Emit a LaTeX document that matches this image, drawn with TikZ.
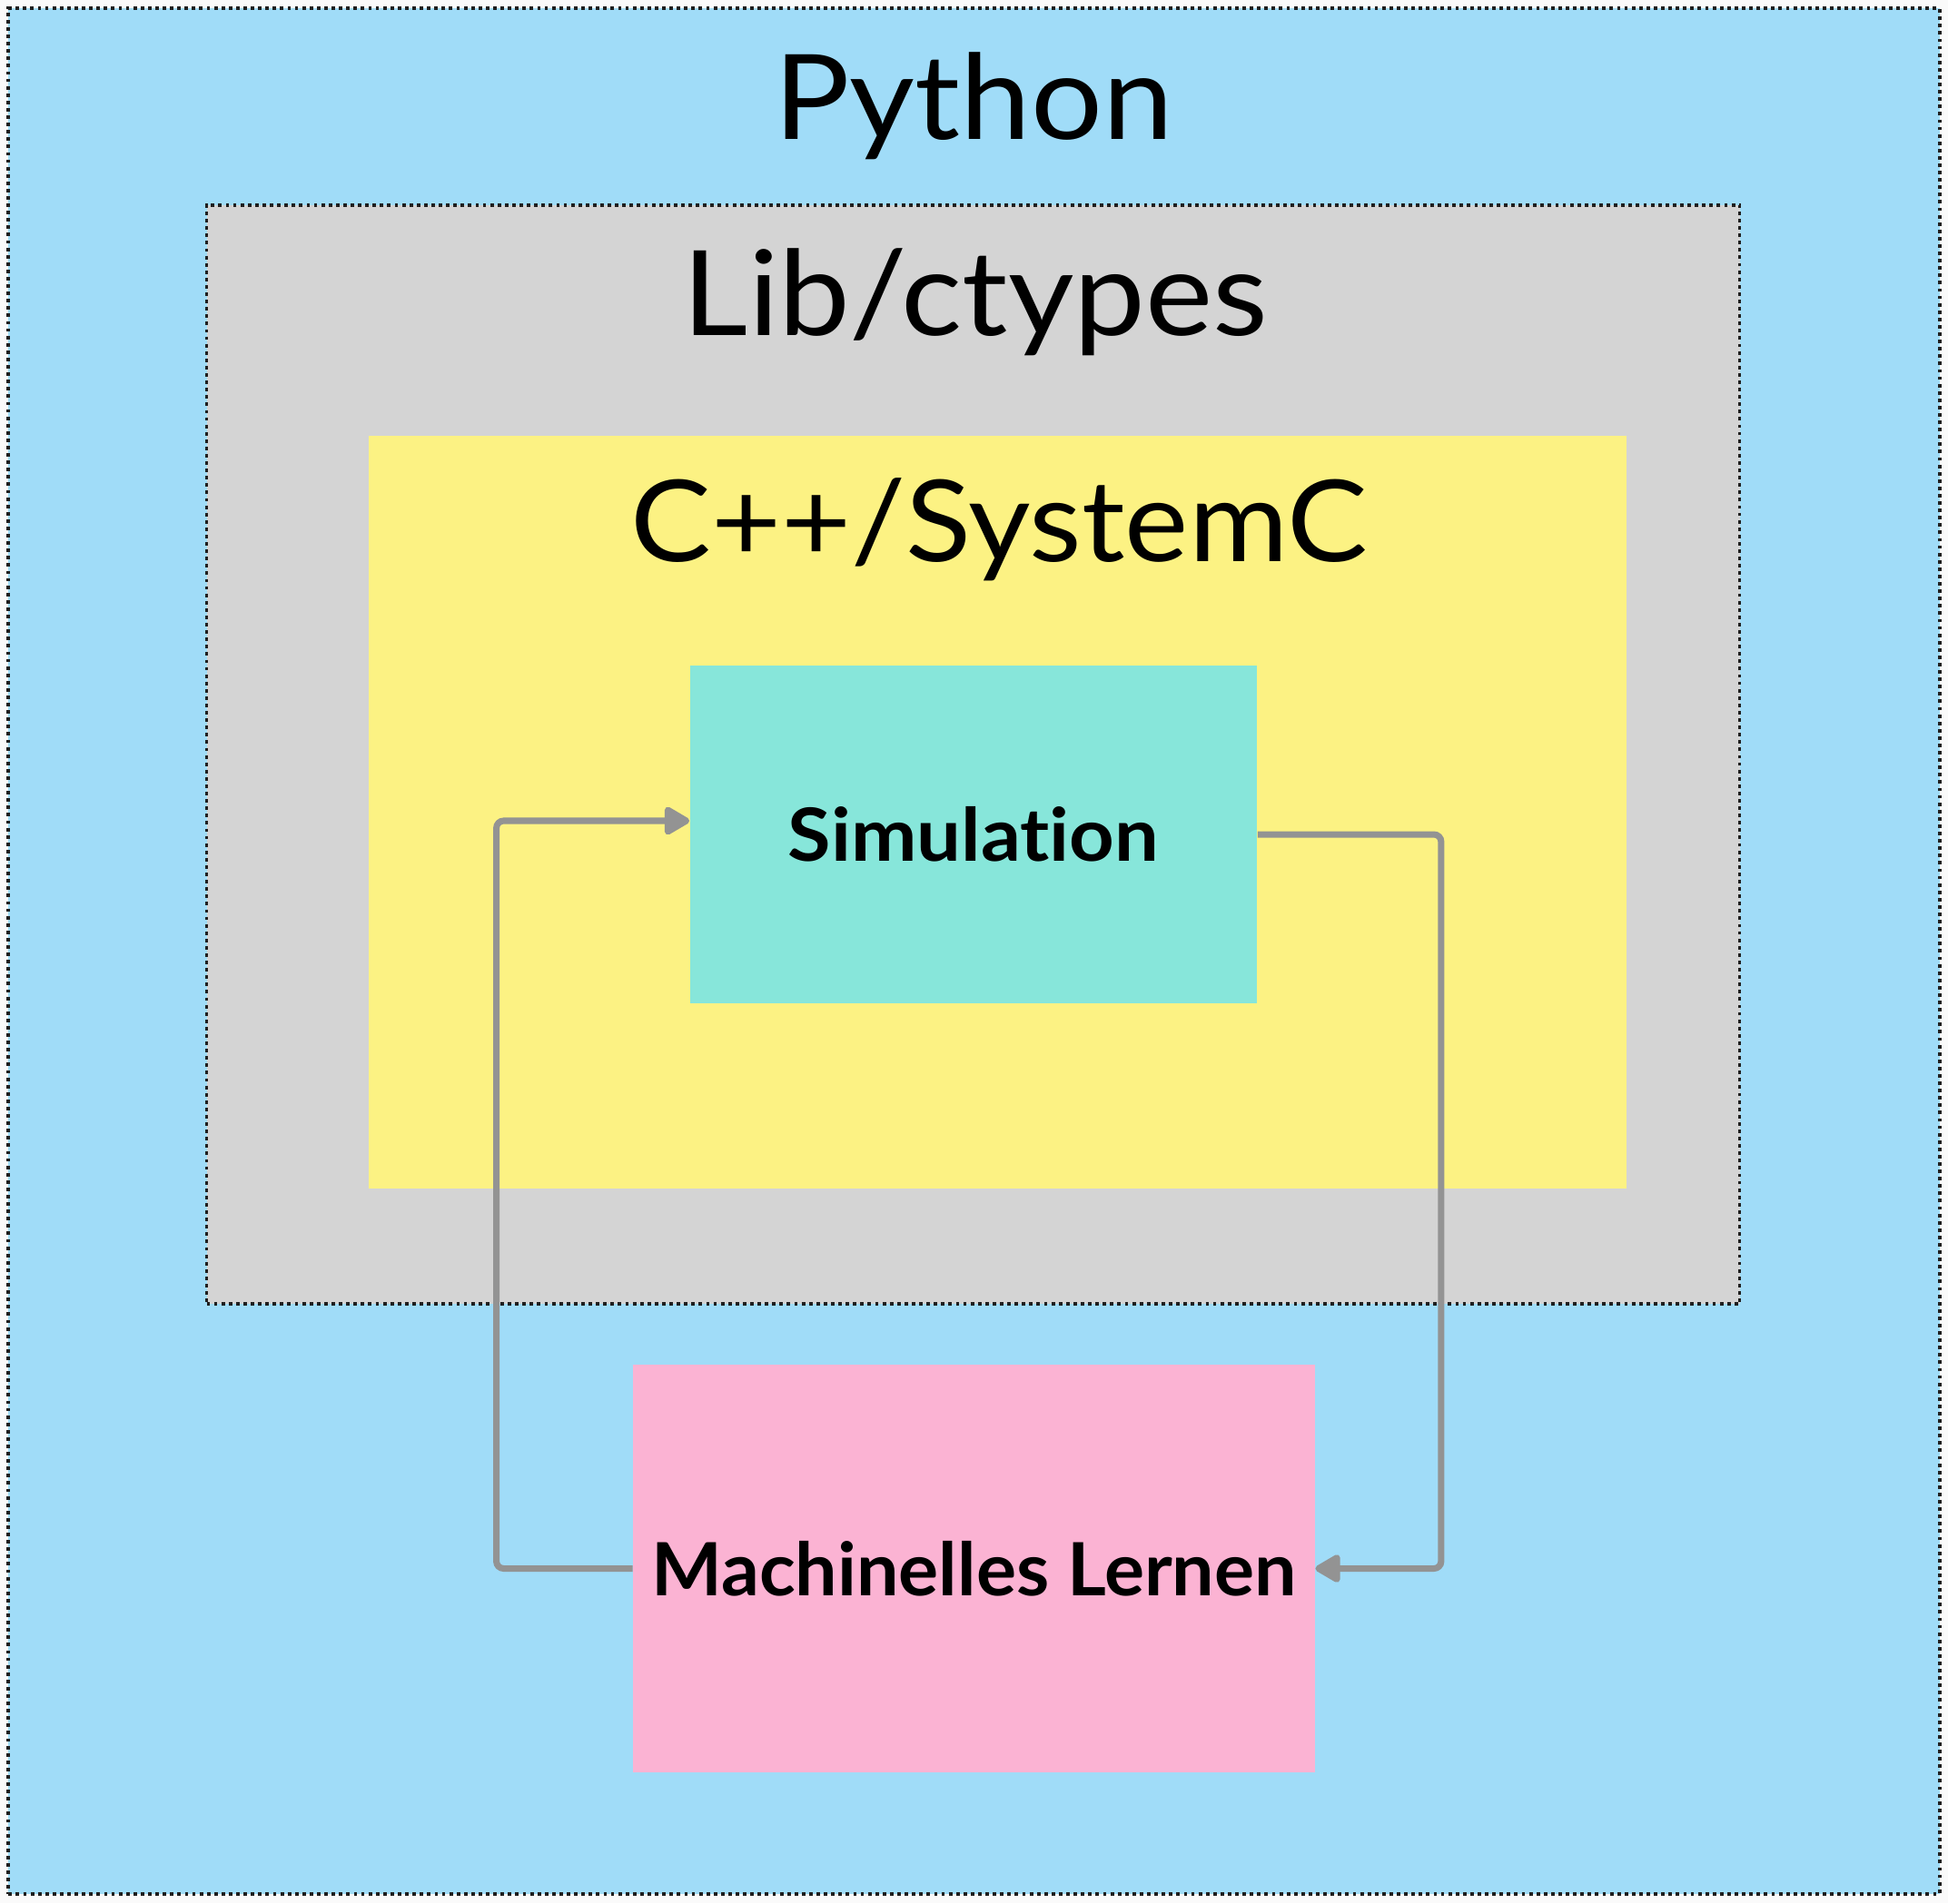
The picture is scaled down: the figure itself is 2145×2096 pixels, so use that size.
\documentclass[tikz,border=0pt]{standalone}
\usepackage{fontspec}
\setmainfont{Lato}[Ligatures=NoCommon]
\usetikzlibrary{positioning,arrows.meta}

\definecolor{pyblue}{HTML}{A0DCF8}
\definecolor{libgray}{HTML}{D4D4D4}
\definecolor{cppyellow}{HTML}{FCF283}
\definecolor{simteal}{HTML}{87E6DA}
\definecolor{mlpink}{HTML}{FBB3D3}
\definecolor{flowgray}{HTML}{939393}
\definecolor{paper}{HTML}{FAFAFA}

\newcommand{\wide}[2][1.07]{\scalebox{#1}[1]{#2}}

\begin{document}
\begin{tikzpicture}[%
    x=0.01cm, y=-0.01cm,
    box/.style={rectangle, inner sep=0pt, draw=none},
    dotbox/.style={box, draw=black!88, line width=1.1pt, dash pattern=on 1.1pt off 1.2pt},
    lbl/.style={anchor=base, inner sep=0pt, font=\fontsize{37}{44}\selectfont},
    boldlbl/.style={font=\bfseries\fontsize{23}{28}\selectfont},
    flow/.style={draw=flowgray, line width=2pt, rounded corners=0.8mm,
        -{Triangle[length=3.1mm,width=3.4mm,round]}}]

    \useasboundingbox[fill=paper] (0,0) rectangle (2145,2096);

    % nested boxes
    \node[dotbox, fill=pyblue, minimum width=21.25cm, minimum height=20.75cm] (python) at (1072.5,1047.5) {};
    \node[dotbox, fill=libgray, minimum width=16.87cm, minimum height=12.10cm] (lib) at (1071.5,831) {};
    \node[box, fill=cppyellow, minimum width=13.85cm, minimum height=8.29cm] (cpp) at (1098.5,894.5) {};
    \node[box, fill=simteal, minimum width=6.24cm, minimum height=3.72cm, boldlbl] (sim) at (1072,919) {\wide{Simulation}};
    \node[box, fill=mlpink, minimum width=7.50cm, minimum height=4.49cm, boldlbl] (ml) at (1072.5,1727.5) {\wide[1.02]{Machinelles Lernen}};

    % titles
    \node[lbl] (pythonlbl) at (1072,153) {\wide{Python}};
    \node[lbl] (liblbl) at (1074,369) {\wide[1.08]{Lib/ctypes}};
    \node[lbl, font=\fontsize{35.5}{42}\selectfont] (cpplbl) at (1100,618) {\wide[1.065]{C++/SystemC}};

    % loop
    \draw[flow] (ml.west) -- ++(-150,0) |- ([yshift=0.15cm]sim.west);
    \draw[flow] (sim.east) -- ++(202,0) |- (ml.east);

\end{tikzpicture}
\end{document}
